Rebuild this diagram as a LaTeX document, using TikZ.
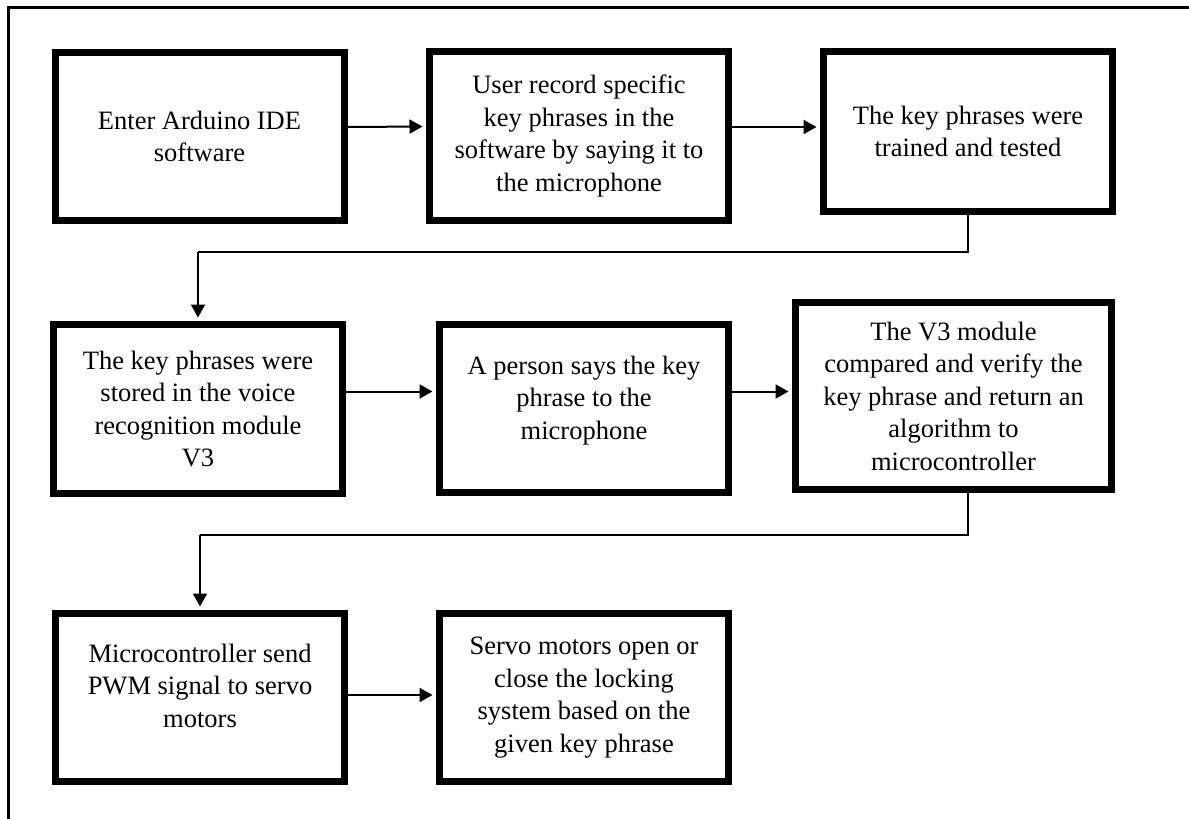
\documentclass[tikz,border=0pt]{standalone}
\usepackage{fontspec}
\setmainfont{Liberation Serif}
\usetikzlibrary{arrows.meta}
\begin{document}
\begin{tikzpicture}[x=0.5pt,y=-0.5pt,
				stepbox/.style={draw,rectangle,line width=3.5pt,align=center,inner sep=0pt,
					minimum width=144.5pt,minimum height=84pt,
					font=\fontsize{13.25pt}{16.25pt}\selectfont},
				flow/.style={line width=1pt,-{Triangle[length=6.5pt,width=7pt]},shorten >=1.75pt},
				link/.style={line width=0.6pt}]
\useasboundingbox (0,0) rectangle (1189,819);
\draw[line width=1.5pt] (1189,7.5) -- (8.5,7.5) -- (8.5,819);
\node[stepbox] (enter) at (199.5,136.5) {Enter Arduino IDE\\software};
\node[stepbox,minimum width=149.5pt,minimum height=84.5pt] (record) at (579,136)
	{User record specific\\key phrases in the\\software by saying it to\\the microphone};
\node[stepbox,minimum height=80pt] (train) at (968,131.5) {The key phrases were\\trained and tested};
\node[stepbox,minimum height=84.5pt] (store) at (198,409)
	{The key phrases were\\stored in the voice\\recognition module\\V3};
\node[stepbox,text depth=11pt] (say) at (584,408.5) {A person says the key\\phrase to the\\microphone};
\node[stepbox,minimum width=158pt,minimum height=93.5pt] (verify) at (953.5,396)
	{The V3 module\\compared and verify the\\key phrase and return an\\algorithm to\\microcontroller};
\node[stepbox,text depth=12pt] (pwm) at (200,697.5) {Microcontroller send\\PWM signal to servo\\motors};
\node[stepbox] (servo) at (584,697.5)
	{Servo motors open or\\close the locking\\system based on the\\given key phrase};
\coordinate (turnA) at (198,252);
\coordinate (turnB) at (200,535);
\draw[flow] ([yshift=4.75pt]enter.east) -- ([yshift=4.75pt]record.west);
\draw[flow] ([yshift=4.5pt]record.east) -- ([yshift=2.25pt]train.west);
\draw[link] (train.south) |- (turnA);
\draw[flow] (turnA) -- (store.north);
\draw[flow] ([yshift=8.75pt]store.east) -- ([yshift=8.5pt]say.west);
\draw[flow] ([yshift=8.5pt]say.east) -- ([yshift=2.25pt]verify.west);
\draw[link] (verify.south -| train.south) |- (turnB);
\draw[flow] (turnB) -- (pwm.north);
\draw[flow] ([yshift=1.25pt]pwm.east) -- ([yshift=1.25pt]servo.west);
\end{tikzpicture}
\end{document}
